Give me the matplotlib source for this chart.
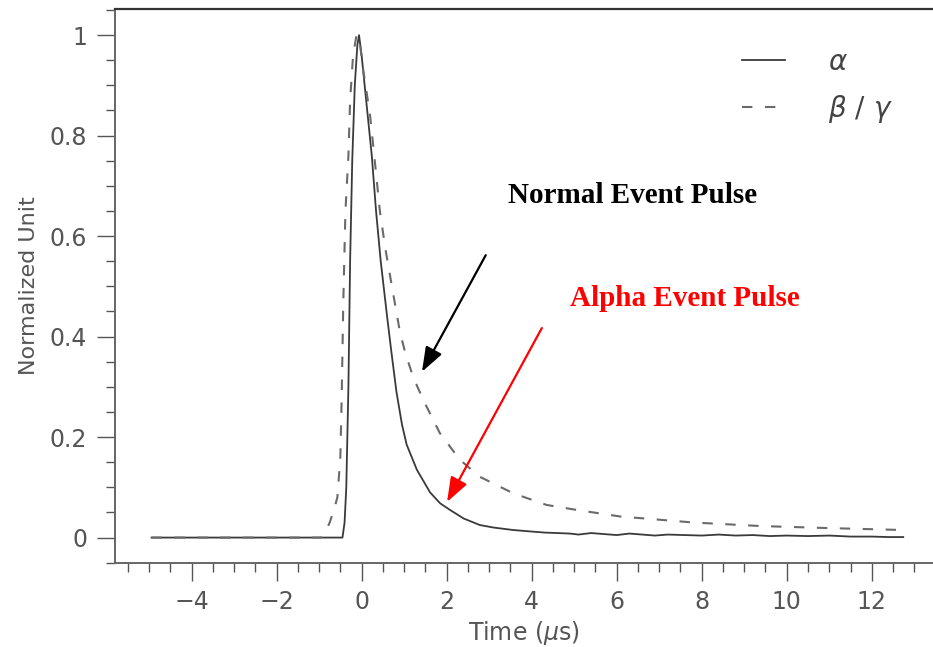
import matplotlib
matplotlib.use('Agg')
import matplotlib.pyplot as plt
from matplotlib.ticker import MultipleLocator

# Pulse shapes (time in microseconds, normalized amplitude)
t_alpha = [-4.94, -1.0, -0.45, -0.40, -0.36, -0.31, -0.27, -0.22, -0.16, -0.10, -0.06,
           0.0, 0.12, 0.24, 0.34, 0.45, 0.60, 0.70, 0.82, 0.95, 1.06, 1.30, 1.61,
           1.85, 2.08, 2.40, 2.78, 3.10, 3.57, 4.00, 4.30, 4.60, 4.90, 5.10, 5.40,
           5.70, 6.00, 6.30, 6.60, 6.90, 7.20, 7.60, 8.00, 8.40, 8.80, 9.20, 9.60,
           10.0, 10.5, 11.0, 11.5, 12.0, 12.4, 12.74]
y_alpha = [0.0, 0.0, 0.0, 0.03, 0.10, 0.30, 0.55, 0.75, 0.90, 0.98, 1.0,
           0.96, 0.86, 0.76, 0.65, 0.55, 0.44, 0.37, 0.29, 0.225, 0.185, 0.135, 0.09,
           0.068, 0.055, 0.038, 0.025, 0.020, 0.015, 0.012, 0.010, 0.009, 0.008, 0.006, 0.009,
           0.007, 0.005, 0.008, 0.006, 0.004, 0.006, 0.005, 0.004, 0.006, 0.004, 0.005, 0.003,
           0.004, 0.003, 0.004, 0.002, 0.002, 0.001, 0.001]

t_beta = [-4.94, -1.5, -0.95, -0.85, -0.75, -0.65, -0.57, -0.50, -0.47, -0.43, -0.38,
          -0.31, -0.27, -0.20, -0.12, -0.05, 0.04, 0.20, 0.31, 0.43, 0.55, 0.63, 0.90,
          1.02, 1.21, 1.45, 1.84, 2.31, 2.78, 3.57, 4.35, 5.06, 6.08, 7.80, 9.37,
          10.94, 12.75]
y_beta = [0.0, 0.0, 0.0, 0.012, 0.03, 0.055, 0.08, 0.16, 0.27, 0.47, 0.65,
          0.76, 0.87, 0.96, 1.0, 0.99, 0.93, 0.84, 0.75, 0.65, 0.58, 0.54, 0.41,
          0.37, 0.32, 0.274, 0.208, 0.155, 0.121, 0.088, 0.065, 0.055, 0.042, 0.030, 0.023,
          0.019, 0.015]

x_ticks = [-4, -2, 0, 2, 4, 6, 8, 10, 12]
y_ticks = [0, 0.2, 0.4, 0.6, 0.8, 1.0]
y_ticklabels = ['0', '0.2', '0.4', '0.6', '0.8', '1']

fig = plt.figure(figsize=(9.33, 6.47), dpi=100)
ax = fig.add_axes([115 / 933, 1 - 562.7 / 647, 1 - 115 / 933, (562.7 - 8.5) / 647])

ax.plot(t_alpha, y_alpha, color='#3a3a3a', lw=1.3, label=r'$\alpha$')
ax.plot(t_beta, y_beta, color='#6a6a6a', lw=1.5, linestyle=(0, (5, 6)),
        label=r'$\beta\ /\ \gamma$')

ax.set_xlim(-5.8, 13.44)
ax.set_ylim(-0.05, 1.053)

ax.set_xticks(x_ticks)
ax.set_xticklabels([str(v).replace('-', '\u2212') for v in x_ticks])
ax.set_yticks(y_ticks)
ax.set_yticklabels(y_ticklabels)
ax.xaxis.set_minor_locator(MultipleLocator(0.5))
ax.yaxis.set_minor_locator(MultipleLocator(0.05))

ax.tick_params(which='major', direction='out', length=13, width=1.0, color='#555555',
               labelsize=17, labelcolor='#555555', pad=7)
ax.tick_params(which='minor', direction='out', length=6.5, width=1.0, color='#555555')
ax.tick_params(top=False, right=False, which='both')

ax.spines['right'].set_visible(False)
ax.spines['top'].set_color('#333333')
ax.spines['top'].set_linewidth(1.6)
for s in ['left', 'bottom']:
    ax.spines[s].set_color('#666666')
    ax.spines[s].set_linewidth(1.4)

ax.set_xlabel(r'Time ($\mu$s)', fontsize=17, color='#555555', labelpad=3)
ax.set_ylabel('Normalized Unit', fontsize=16, color='#555555', labelpad=8)

leg = ax.legend(loc='upper left', bbox_to_anchor=(742 / 933, 1 - 48 / 647),
                bbox_transform=fig.transFigure, frameon=False, fontsize=20,
                handlelength=1.55, handletextpad=1.55, labelspacing=0.62,
                borderpad=0, borderaxespad=0)
for txt in leg.get_texts():
    txt.set_color('#444444')

# annotations
ax.annotate('', xy=(1.42, 0.33), xytext=(2.92, 0.562),
            arrowprops=dict(arrowstyle='-|>,head_length=1.5,head_width=0.55',
                            color='black', lw=1.6, shrinkA=0, shrinkB=0))
ax.annotate('', xy=(2.01, 0.071), xytext=(4.24, 0.417),
            arrowprops=dict(arrowstyle='-|>,head_length=1.5,head_width=0.55',
                            color='red', lw=1.6, shrinkA=0, shrinkB=0))
ax.text(6.38, 0.681, 'Normal Event Pulse', ha='center', va='center',
        fontsize=21, fontweight='bold', family='Liberation Serif', color='black')
ax.text(7.61, 0.476, 'Alpha Event Pulse', ha='center', va='center',
        fontsize=21, fontweight='bold', family='Liberation Serif', color='red')

fig.savefig('out.png', dpi=100)
